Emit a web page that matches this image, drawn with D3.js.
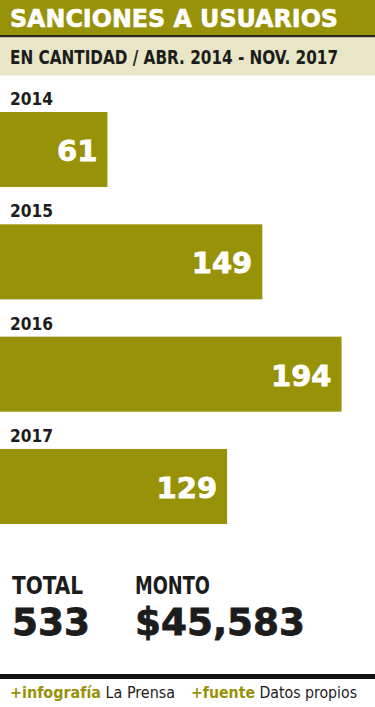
<!DOCTYPE html>
<html>
<head>
<meta charset="utf-8">
<script src="https://cdn.jsdelivr.net/npm/d3@7"></script>
<style>
  body { margin: 0; background: #fff; }
  svg { display: block; }
</style>
</head>
<body>
<svg width="375" height="707"></svg>
<script>
// data
const years = ["2014", "2015", "2016", "2017"];
const sanciones = [61, 149, 194, 129];
const totalLabel = "TOTAL";
const totalValue = "533";
const montoLabel = "MONTO";
const montoValue = "$45,583";

const olive = "#979207";
const beige = "#e8e6c6";
const ink = "#1c1c1c";
const cond = "'DejaVu Sans Condensed', 'DejaVu Sans', sans-serif";
const heavy = "'DejaVu Sans', sans-serif";

const svg = d3.select("svg");

// header bands
svg.append("rect").attr("x", 0).attr("y", 0).attr("width", 375).attr("height", 35).attr("fill", olive);
svg.append("rect").attr("x", 0).attr("y", 35).attr("width", 375).attr("height", 2.5).attr("fill", "#2a2a1a");
svg.append("rect").attr("x", 0).attr("y", 37.5).attr("width", 375).attr("height", 38).attr("fill", beige);

svg.append("text")
   .attr("x", 10).attr("y", 27)
   .attr("fill", "#fff")
   .attr("font-family", heavy).attr("font-weight", "bold").attr("font-size", 24)
   .attr("stroke", "#fff").attr("stroke-width", 0.6)
   .attr("textLength", 328).attr("lengthAdjust", "spacingAndGlyphs")
   .text("SANCIONES A USUARIOS");

// subtitle: condensed at a smaller size, stretched vertically to the reference cap height
svg.append("text")
   .attr("transform", "translate(10,64) scale(1,1.12)")
   .attr("fill", ink)
   .attr("font-family", cond).attr("font-weight", "bold").attr("font-size", 17)
   .attr("textLength", 328).attr("lengthAdjust", "spacingAndGlyphs")
   .text("EN CANTIDAD / ABR. 2014 - NOV. 2017");

// scales
const x = d3.scaleLinear().domain([0, 213]).range([0, 375]);
const y = d3.scaleBand().domain(years).range([112, 524]).paddingInner(0.332);

const rows = svg.append("g").selectAll("g")
   .data(years)
   .join("g");

rows.append("rect")
   .attr("x", x(0))
   .attr("y", d => y(d))
   .attr("width", (d, i) => x(sanciones[i]) - x(0))
   .attr("height", y.bandwidth())
   .attr("fill", olive);

rows.append("text")
   .attr("x", 10)
   .attr("y", d => y(d) - 7)
   .attr("fill", ink)
   .attr("font-family", cond).attr("font-weight", "bold").attr("font-size", 18)
   .attr("textLength", 43).attr("lengthAdjust", "spacingAndGlyphs")
   .text(d => d);

rows.append("text")
   .attr("x", (d, i) => x(sanciones[i]) - 10)
   .attr("y", d => y(d) + 49)
   .attr("text-anchor", "end")
   .attr("fill", "#fff")
   .attr("stroke", "#fff").attr("stroke-width", 0.8)
   .attr("font-family", heavy).attr("font-weight", "bold").attr("font-size", 29)
   .text((d, i) => sanciones[i]);

// totals
const totals = [
  { label: totalLabel, value: totalValue, x: 12, lw: 71, vw: 78 },
  { label: montoLabel, value: montoValue, x: 135, lw: 75, vw: 170 }
];
totals.forEach(t => {
  svg.append("text")
     .attr("x", t.x).attr("y", 594)
     .attr("fill", ink)
     .attr("font-family", cond).attr("font-weight", "bold").attr("font-size", 24)
     .attr("textLength", t.lw).attr("lengthAdjust", "spacingAndGlyphs")
     .text(t.label);
  svg.append("text")
     .attr("x", t.x).attr("y", 635)
     .attr("fill", ink)
     .attr("stroke", ink).attr("stroke-width", 0.8)
     .attr("font-family", heavy).attr("font-weight", "bold").attr("font-size", 37)
     .attr("textLength", t.vw).attr("lengthAdjust", "spacingAndGlyphs")
     .text(t.value);
});

// footer rule
svg.append("rect").attr("x", 0).attr("y", 674).attr("width", 375).attr("height", 5).attr("fill", "#111");

// credits
const credits = [
  { tag: "+infografía", name: " La Prensa", x: 10, w: 165 },
  { tag: "+fuente", name: " Datos propios", x: 191, w: 166 }
];
const cr = svg.append("g").selectAll("text")
   .data(credits)
   .join("text")
   .attr("x", d => d.x).attr("y", 698)
   .attr("font-family", cond)
   .attr("font-size", 16)
   .attr("textLength", d => d.w).attr("lengthAdjust", "spacingAndGlyphs");
cr.append("tspan")
   .attr("fill", olive).attr("font-weight", "bold")
   .text(d => d.tag);
cr.append("tspan")
   .attr("fill", ink)
   .text(d => d.name);
</script>
</body>
</html>
